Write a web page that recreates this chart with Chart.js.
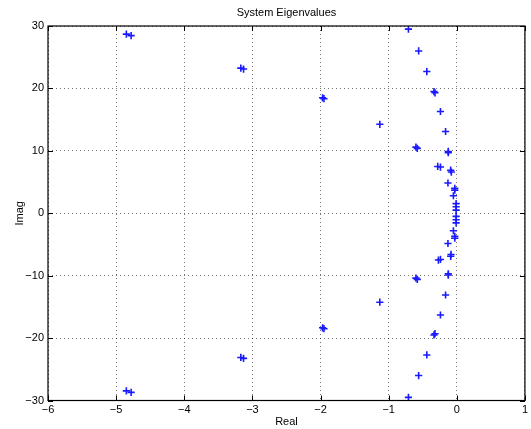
<!DOCTYPE html>
<html>
<head>
<meta charset="utf-8">
<script src="https://cdn.jsdelivr.net/npm/chart.js@4/dist/chart.umd.min.js"></script>
<style>
  html, body { margin: 0; padding: 0; background: #fff; }
  #wrap { width: 531px; height: 429px; }
</style>
</head>
<body>
<div id="wrap"><canvas id="c" width="531" height="429"></canvas></div>
<script>
// Eigenvalues of the system: real and imaginary parts
const realParts = [
  -4.85, -4.78, -3.17, -3.13, -1.97, -1.95, -1.13, -0.71, -0.56, -0.44,
  -0.335, -0.32, -0.24, -0.165, -0.60, -0.58, -0.125, -0.125, -0.28, -0.24,
  -0.09, -0.08, -0.13, -0.03, -0.03, -0.05, -0.01, -0.01, -0.01,
  -0.01, -0.01, -0.01, -0.05, -0.03, -0.03, -0.13, -0.085, -0.09, -0.27, -0.24,
  -0.125, -0.125, -0.60, -0.58, -0.165, -0.24, -0.335, -0.32, -0.44, -0.56,
  -0.71, -1.13, -1.97, -1.95, -3.17, -3.13, -4.85, -4.78
];
const imagParts = [
  28.7, 28.45, 23.25, 23.1, 18.5, 18.35, 14.25, 29.5, 26.0, 22.7,
  19.5, 19.3, 16.3, 13.1, 10.6, 10.4, 9.9, 9.7, 7.5, 7.4,
  6.9, 6.6, 4.85, 4.0, 3.7, 2.8, 1.55, 1.05, 0.5,
  -0.5, -1.05, -1.55, -2.8, -3.7, -4.0, -4.85, -6.6, -6.9, -7.5, -7.4,
  -9.7, -9.9, -10.4, -10.6, -13.1, -16.3, -19.5, -19.3, -22.7, -26.0,
  -29.5, -14.25, -18.35, -18.5, -23.1, -23.25, -28.45, -28.7
];
const xTicks = [-6, -5, -4, -3, -2, -1, 0, 1];
const yTicks = [-30, -20, -10, 0, 10, 20, 30];

const points = realParts.map((r, i) => ({ x: r, y: imagParts[i] }));

const FONT = 'Liberation Sans, Arial, Helvetica, sans-serif';

// Box around the axes with inward tick marks on all four sides
const frameTicks = {
  id: 'frameTicks',
  afterDatasetsDraw(chart) {
    const { ctx, chartArea: a, scales } = chart;
    const len = 5;
    ctx.save();
    ctx.strokeStyle = '#000';
    ctx.lineWidth = 1;
    ctx.beginPath();
    xTicks.forEach(v => {
      const px = Math.round(scales.x.getPixelForValue(v)) + 0.5;
      ctx.moveTo(px, a.bottom); ctx.lineTo(px, a.bottom - len);
      ctx.moveTo(px, a.top); ctx.lineTo(px, a.top + len);
    });
    yTicks.forEach(v => {
      const py = Math.round(scales.y.getPixelForValue(v)) + 0.5;
      ctx.moveTo(a.left, py); ctx.lineTo(a.left + len, py);
      ctx.moveTo(a.right, py); ctx.lineTo(a.right - len, py);
    });
    ctx.stroke();
    ctx.lineWidth = 1.2;
    ctx.strokeRect(a.left, a.top, a.right - a.left, a.bottom - a.top);
    ctx.restore();
  }
};

new Chart(document.getElementById('c'), {
  type: 'scatter',
  data: {
    datasets: [{
      data: points,
      pointStyle: 'cross',
      pointRadius: 3.6,
      pointBorderWidth: 1.6,
      borderColor: '#1a1aff',
      backgroundColor: '#1a1aff',
      showLine: false
    }]
  },
  options: {
    responsive: false,
    animation: false,
    events: [],
    layout: { padding: { left: 0, right: 6, top: 0, bottom: 0 } },
    plugins: {
      legend: { display: false },
      tooltip: { enabled: false },
      title: {
        display: true,
        text: 'System Eigenvalues',
        fullSize: false,
        color: '#000',
        font: { family: FONT, size: 11, weight: 'normal', lineHeight: 1.2 },
        padding: { top: 6, bottom: 6.8 }
      }
    },
    scales: {
      x: {
        type: 'linear',
        min: -6, max: 1,
        afterBuildTicks(scale) { scale.ticks = xTicks.map(v => ({ value: v })); },
        afterFit(scale) { scale.height = 28.5; },
        ticks: {
          color: '#000',
          padding: 3,
          font: { family: FONT, size: 11 },
          callback: v => String(v).replace('-', '\u2212')
        },
        grid: {
          drawTicks: false,
          color: 'rgba(0,0,0,0.55)',
          lineWidth: 1
        },
        border: { display: false, dash: [1, 3] },
        title: {
          display: true,
          text: 'Real',
          color: '#000',
          font: { family: FONT, size: 11 },
          padding: { top: 1, bottom: 0 }
        }
      },
      y: {
        type: 'linear',
        min: -30, max: 30,
        afterBuildTicks(scale) { scale.ticks = yTicks.map(v => ({ value: v })); },
        afterFit(scale) { scale.width = 48; },
        ticks: {
          color: '#000',
          padding: 4,
          font: { family: FONT, size: 11 },
          callback: v => String(v).replace('-', '\u2212')
        },
        grid: {
          drawTicks: false,
          color: 'rgba(0,0,0,0.55)',
          lineWidth: 1
        },
        border: { display: false, dash: [1, 3] },
        title: {
          display: true,
          text: 'Imag',
          color: '#000',
          font: { family: FONT, size: 11 },
          padding: { top: 13, bottom: 0 }
        }
      }
    }
  },
  plugins: [frameTicks]
});
</script>
</body>
</html>
